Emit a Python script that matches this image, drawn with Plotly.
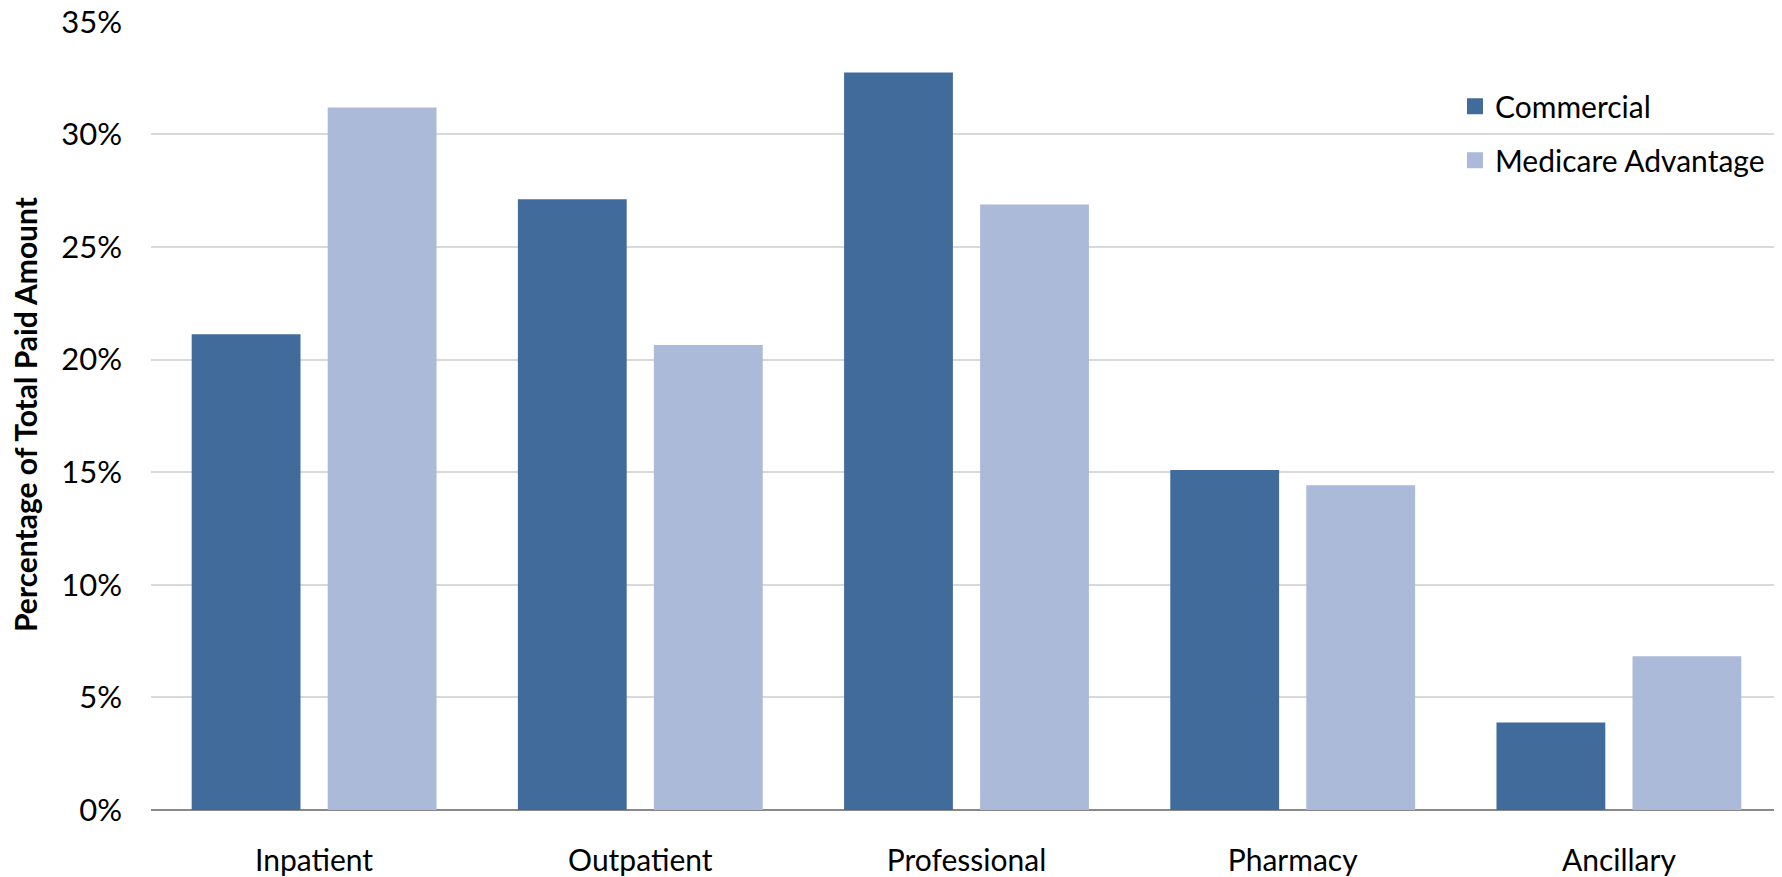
import plotly.graph_objects as go

categories = ["Inpatient", "Outpatient", "Professional", "Pharmacy", "Ancillary"]
commercial = [21.12, 27.12, 32.74, 15.09, 3.88]
medicare_adv = [31.19, 20.65, 26.88, 14.42, 6.83]
y_ticks = [0, 5, 10, 15, 20, 25, 30, 35]
y_tick_labels = [f"{v}%" for v in y_ticks]

C_COM = "#416B9B"
C_MA = "#ABBAD8"
FONT = "Lato"

fig = go.Figure()
fig.add_trace(go.Bar(x=categories, y=commercial, name="Commercial",
                     marker=dict(color=C_COM, line=dict(width=0)), showlegend=False))
fig.add_trace(go.Bar(x=categories, y=medicare_adv, name="Medicare Advantage",
                     marker=dict(color=C_MA, line=dict(width=0)), showlegend=False))
# legend entries (square swatches)
fig.add_trace(go.Scatter(x=[None], y=[None], mode="markers", name="Commercial",
                         marker=dict(symbol="square", size=18, color=C_COM),
                         legendgroup="a"))
fig.add_trace(go.Scatter(x=[None], y=[None], mode="markers", name="Medicare Advantage",
                         marker=dict(symbol="square", size=18, color=C_MA),
                         legendgroup="b"))

fig.update_layout(
    width=1782, height=877,
    margin=dict(l=143, r=8, t=13, b=75, autoexpand=False),
    paper_bgcolor="white", plot_bgcolor="white",
    font=dict(family=FONT, size=30, color="#000000"),
    barmode="group", bargap=0.166, bargroupgap=0.2,
    showlegend=True,
    legend=dict(x=0.7995, xanchor="left", y=0.925, yanchor="top",
                bgcolor="rgba(0,0,0,0)", font=dict(size=30, family=FONT),
                tracegroupgap=12, itemwidth=30, traceorder="grouped"),
    xaxis=dict(type="category", showgrid=False, showline=False, zeroline=False,
               ticks="", tickfont=dict(size=30), ticklabelstandoff=30,
               automargin=False,
               categoryorder="array", categoryarray=categories),
    yaxis=dict(range=[0, 35.03], tickvals=y_ticks, ticktext=y_tick_labels,
               showgrid=True, gridcolor="#D9D9D9", gridwidth=1.5,
               zeroline=True, zerolinecolor="#898989", zerolinewidth=2,
               showline=False, ticks="", tickfont=dict(size=31),
               ticklabelstandoff=28, ticklabeloverflow="allow",
               automargin=False),
    annotations=[dict(text="<b>Percentage of Total Paid Amount</b>", textangle=-90,
                      xref="paper", yref="paper", x=-126/1631, y=(802-407)/789,
                      xanchor="center", yanchor="middle", showarrow=False,
                      font=dict(size=30, family=FONT))],
)

fig.write_html("out.html")
